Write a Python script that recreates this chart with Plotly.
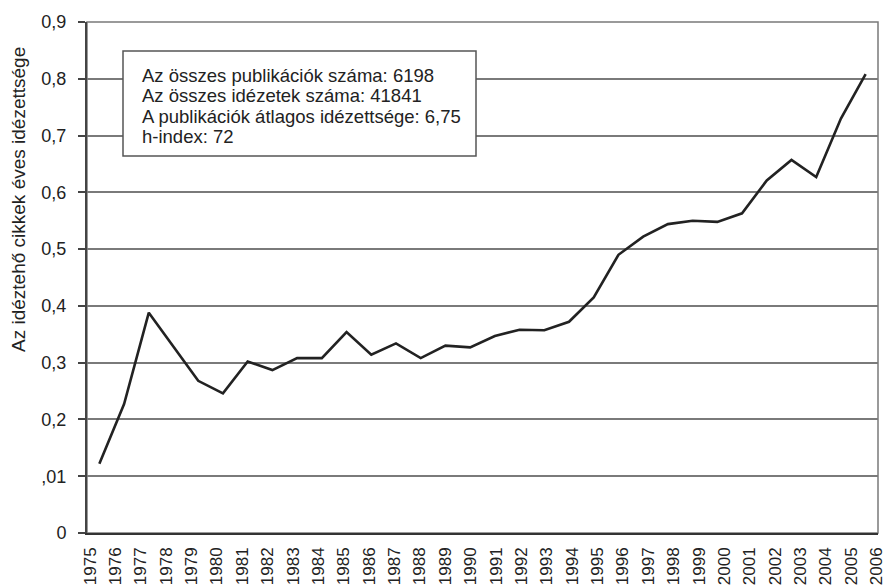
import plotly.graph_objects as go

years = list(range(1975, 2007))
values = [0.122, 0.227, 0.388, 0.327, 0.268, 0.246, 0.302, 0.287, 0.308, 0.308,
          0.354, 0.314, 0.334, 0.308, 0.330, 0.327, 0.347, 0.358, 0.357, 0.372,
          0.415, 0.490, 0.522, 0.544, 0.550, 0.548, 0.563, 0.621, 0.657, 0.627,
          0.730, 0.808]
y_ticks = [0, 0.1, 0.2, 0.3, 0.4, 0.5, 0.6, 0.7, 0.8, 0.9]
y_ticktext = ["0", ",01", "0,2", "0,3", "0,4", "0,5", "0,6", "0,7", "0,8", "0,9"]
y_title = "Az idéztehő cikkek éves idézettsége"
info_lines = ["Az összes publikációk száma: 6198",
              "Az összes idézetek száma: 41841",
              "A publikációk átlagos idézettsége: 6,75",
              "h-index: 72"]

FONT = "Liberation Sans, Arial, sans-serif"
W, H = 886, 587
L, R, T, B = 87, 8, 22, 54
pw, ph = W - L - R, H - T - B

idx = list(range(len(years)))

fig = go.Figure()
fig.add_trace(go.Scatter(x=idx, y=values, mode="lines",
                         line=dict(color="#222222", width=2.6), showlegend=False,
                         xaxis="x", yaxis="y"))

# label axis: years spread from left edge to right edge
px_per = (878 - 90) / 31.0
lab_lo = years[0] - (90 - L) / px_per
lab_hi = years[-1] + 0.05

fig.update_layout(
    width=W, height=H,
    margin=dict(l=L, r=R, t=T, b=B, autoexpand=False),
    paper_bgcolor="white", plot_bgcolor="white",
    font=dict(family=FONT, size=18, color="#222222"),
    xaxis=dict(range=[-0.5, len(years) - 0.5], showticklabels=False, ticks="",
               showgrid=False, zeroline=False, showline=True, linecolor="#333333",
               linewidth=2, automargin=False),
    xaxis2=dict(range=[lab_lo, lab_hi], overlaying="x", anchor="y", side="bottom",
                tickmode="array", tickvals=years, ticktext=[str(y) for y in years],
                tickangle=-90, ticks="", showgrid=False, zeroline=False, showline=False,
                tickfont=dict(family=FONT, size=17, color="#222222"),
                ticklabelstandoff=10, ticklabeloverflow="allow", automargin=False),
    yaxis=dict(range=[0, 0.9], tickmode="array", tickvals=y_ticks, ticktext=y_ticktext,
               ticks="outside", ticklen=7, tickwidth=1.5, tickcolor="#444444",
               showgrid=True, gridcolor="#7a7a7a", gridwidth=1.5, zeroline=False,
               showline=True, linecolor="#444444", linewidth=2,
               tickfont=dict(family=FONT, size=18, color="#222222"),
               ticklabelstandoff=8, automargin=False),
)
# dummy trace so xaxis2 is drawn
fig.add_trace(go.Scatter(x=[years[0]], y=[None], xaxis="x2", yaxis="y",
                         showlegend=False, hoverinfo="skip"))

# plot frame (top and right)
fig.add_shape(type="rect", xref="x domain", yref="y domain", x0=0, x1=1, y0=0, y1=1,
              line=dict(color="#7a7a7a", width=1.5), layer="below")

def px_x(p):
    return (p - L) / pw

def px_y(p):
    return (H - B - p) / ph

# info box
fig.add_shape(type="rect", xref="paper", yref="paper",
              x0=px_x(123), x1=px_x(476), y0=px_y(156), y1=px_y(51),
              line=dict(color="#555555", width=1.5), fillcolor="white", layer="above")
for i, line in enumerate(info_lines):
    fig.add_annotation(text=line, xref="paper", yref="paper",
                       x=px_x(140), y=px_y(75 + i * 20.6), xanchor="left", yanchor="middle",
                       showarrow=False, font=dict(family=FONT, size=18.5, color="#222222"))

fig.add_annotation(text=y_title, xref="paper", yref="paper", x=px_x(18), y=px_y(200),
                   xanchor="center", yanchor="middle", textangle=-90, showarrow=False,
                   font=dict(family=FONT, size=19, color="#222222"))

fig.write_html("out.html", config={"displayModeBar": False},
               post_script="document.body.style.margin='0';document.body.style.overflow='hidden';")
